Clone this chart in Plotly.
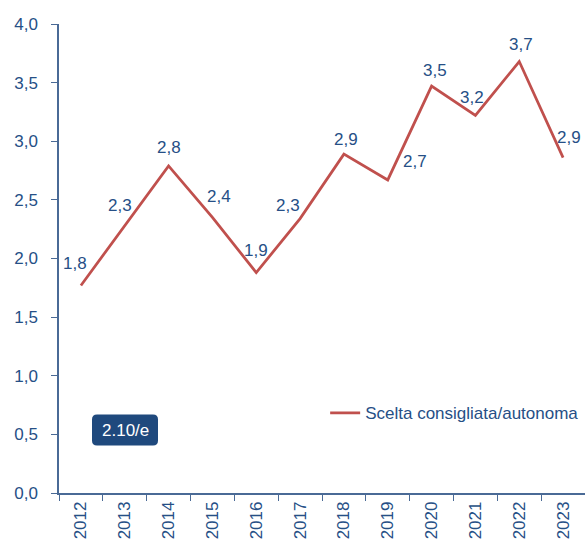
import plotly.graph_objects as go

years = ["2012", "2013", "2014", "2015", "2016", "2017",
         "2018", "2019", "2020", "2021", "2022", "2023"]
values = [1.77, 2.28, 2.79, 2.35, 1.88, 2.34, 2.89, 2.67, 3.47, 3.22, 3.68, 2.86]
series_name = "Scelta consigliata/autonoma"
y_ticks = [0, 0.5, 1, 1.5, 2, 2.5, 3, 3.5, 4]
tag = "2.10/e"

# label offsets (pixels) from each point
label_dx = [-6, -5, 0, 7, 0, -12, 2, 27, 3, -3, 2, 6]
label_dy = [22, 20, 18, 21, 22, 13, 15, 18, 16, 18, 17, 20]

blue = "#264F86"
axis_blue = "#4A6A96"
red = "#C0504D"
font = "Liberation Sans, Arial, sans-serif"

W, H = 585, 545
L, R, T, B = 59, 0, 24, 52
pw, ph = W - L - R, H - T - B

fig = go.Figure()
fig.add_trace(go.Scatter(
    x=years, y=values,
    mode="lines",
    name=series_name,
    line=dict(color=red, width=2.75),
))

for i, (v, dx, dy) in enumerate(zip(values, label_dx, label_dy)):
    fig.add_annotation(
        x=i, y=v, xref="x", yref="y",
        text=f"{v:.1f}".replace(".", ","),
        showarrow=False, xshift=dx, yshift=dy,
        xanchor="center", yanchor="middle",
        font=dict(color=blue, size=17),
    )


def rounded_rect(cx, cy, w, h, r):
    # rectangle in paper coords, w/h/r in pixels
    x0, x1 = cx - w / 2 / pw, cx + w / 2 / pw
    y0, y1 = cy - h / 2 / ph, cy + h / 2 / ph
    rx, ry = r / pw, r / ph
    return (f"M {x0 + rx},{y0} L {x1 - rx},{y0} Q {x1},{y0} {x1},{y0 + ry} "
            f"L {x1},{y1 - ry} Q {x1},{y1} {x1 - rx},{y1} "
            f"L {x0 + rx},{y1} Q {x0},{y1} {x0},{y1 - ry} "
            f"L {x0},{y0 + ry} Q {x0},{y0} {x0 + rx},{y0} Z")


bx, by = (125 - L) / pw, (H - B - 430) / ph
fig.add_shape(type="path", xref="paper", yref="paper",
              path=rounded_rect(bx, by, 66, 31, 5),
              fillcolor="#1F497D", line=dict(width=0), layer="below")
fig.add_annotation(
    x=bx, y=by, xref="paper", yref="paper",
    text=tag, showarrow=False, xanchor="center", yanchor="middle",
    font=dict(color="white", size=17),
)

fig.update_layout(
    width=W, height=H,
    margin=dict(l=L, r=R, t=T, b=B, autoexpand=False),
    plot_bgcolor="rgba(0,0,0,0)", paper_bgcolor="white",
    font=dict(family=font, color=blue, size=17),
    separators=",.",
    showlegend=True,
    legend=dict(x=0.506, y=0.17, xanchor="left", yanchor="middle",
                bgcolor="rgba(0,0,0,0)", font=dict(size=17, color=blue)),
    xaxis=dict(
        type="category", range=[-0.5, 11.5], automargin=False,
        showline=True, linecolor=axis_blue, linewidth=1.5,
        ticks="outside", ticklen=6, tickcolor=axis_blue, tickson="boundaries",
        tickangle=-90, showgrid=False,
        tickfont=dict(size=17, color=blue),
    ),
    yaxis=dict(
        range=[0, 4], tickvals=y_ticks, tickformat=".1f", automargin=False,
        showline=True, linecolor=axis_blue, linewidth=1.5,
        ticks="outside", ticklen=6, tickcolor=axis_blue,
        ticklabelstandoff=10,
        showgrid=False, zeroline=False,
        tickfont=dict(size=17, color=blue),
    ),
)

# drop the default page margin so the figure fills the window
fig.write_html("out.html",
               config={"displayModeBar": False},
               post_script="document.body.style.margin='0';"
                           "document.body.style.overflow='hidden';")
